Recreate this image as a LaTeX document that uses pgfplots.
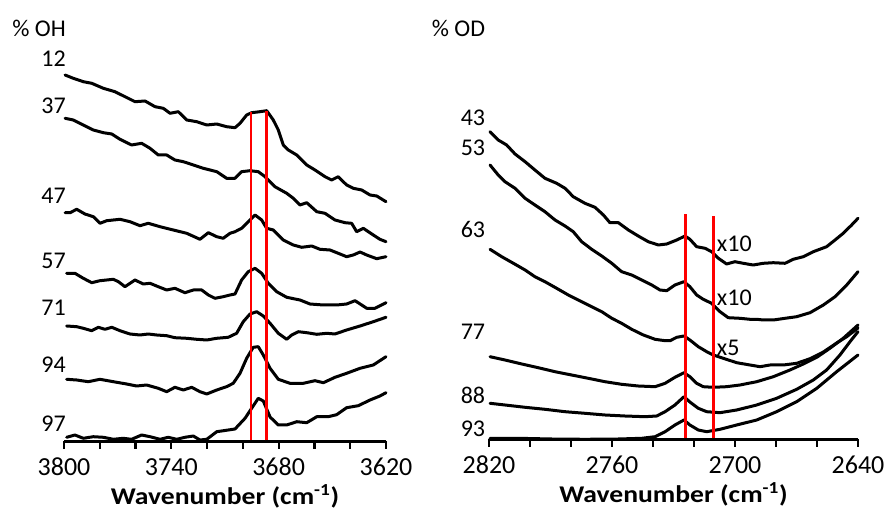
\documentclass[border=0pt]{standalone}
\usepackage{fontspec}
\setmainfont{Carlito}
\usepackage{graphicx}
\usepackage{pgfplots}
\pgfplotsset{compat=1.18}
\pgfplotscreateplotcyclelist{blk}{black,line width=3pt,line join=round,line cap=round,mark=none\\}
\begin{document}
\begin{tikzpicture}
\useasboundingbox (0,0) rectangle (886pt,511pt);
\tikzset{lab/.style={font=\fontsize{24}{28}\selectfont, inner sep=0pt}}
\pgfplotsset{
  spec/.style={
    scale only axis, height=432pt, ymin=-12, ymax=420,
    axis line style={draw=none},
    ytick=\empty, xtick pos=left,
    x dir=reverse,
    major tick length=0pt,
    xticklabel style={font=\fontsize{26}{30}\selectfont, inner sep=0pt, anchor=north, yshift=-4pt},
    clip=false, enlargelimits=false,
    unbounded coords=jump,
    xlabel style={font=\bfseries\fontsize{24}{28}\selectfont, inner sep=0pt, at={(axis description cs:0.5,0)}, anchor=base, yshift=-50.5pt},
    xlabel={\scalebox{1.15}[1]{Wavenumber (cm\textsuperscript{-1})}},
    cycle list name=blk,
  },
  axln/.style={black, line width=3pt, line cap=butt, mark=none, forget plot},
  tck/.style={black, line width=2.3pt, line cap=butt, mark=none, forget plot},
}
% ---------------- left panel: % OH ----------------
\begin{axis}[spec, at={(64pt,57pt)}, anchor=south west, width=322pt,
  xmin=3620, xmax=3800,
  xtick={3620,3680,3740,3800}, xticklabels={3620,3680,3740,3800}]
% axis line and ticks
\addplot[axln] coordinates {(3620,0) (3800,0)};
\addplot[tck] coordinates {(3620,1) (3620,-7) (3630,nan) (3640,1) (3640,-7) (3650,nan) (3660,1) (3660,-7) (3670,nan) (3680,1) (3680,-7) (3690,nan) (3700,1) (3700,-7) (3710,nan) (3720,1) (3720,-7) (3730,nan) (3740,1) (3740,-7) (3750,nan) (3760,1) (3760,-7) (3770,nan) (3780,1) (3780,-7) (3790,nan) (3800,1) (3800,-7)};
\addplot coordinates {(3799.4,367) (3794.8,363.7) (3789.2,360.3) (3784.5,358.7) (3778.0,353.7) (3771.5,350.3) (3765.9,345.3) (3760.3,340.3) (3754.7,341) (3749.1,335.3) (3744.5,333.7) (3740.7,328.7) (3736.1,330.3) (3731.4,322) (3725.8,320.3) (3720.2,317) (3714.6,318) (3709.1,315.3) (3704.4,314.3) (3701.6,318.7) (3697.9,327) (3695.1,329.3) (3690.4,330.3) (3686.7,331.3) (3683.0,322) (3680.2,312) (3677.4,297) (3674.6,292) (3669.9,287) (3664.3,277) (3659.7,272) (3654.1,265.3) (3650.4,262) (3646.7,265.3) (3642.0,257) (3638.3,253.7) (3633.6,252) (3628.9,247) (3625.2,246) (3620,240.3)};
\addplot coordinates {(3799.4,323.7) (3794.8,322) (3789.2,317) (3783.6,312) (3778.0,309.3) (3773.3,308) (3768.7,302.7) (3762.2,297) (3756.6,298.7) (3751.9,293.7) (3747.3,287) (3742.6,287) (3738.0,282) (3733.3,280.3) (3727.7,277) (3722.1,273.7) (3714.6,270.3) (3709.1,263.7) (3704.4,263.7) (3700.7,270.3) (3696.0,271.3) (3691.4,270.3) (3687.6,265.3) (3682.1,255.3) (3675.5,248.7) (3671.8,243.7) (3668.1,237) (3664.3,239.3) (3658.7,230.3) (3654.1,228.7) (3648.5,222) (3642.9,219.3) (3639.2,218.7) (3636.4,210.3) (3632.7,213.7) (3627.1,207) (3623.4,202.7) (3620,200.3)};
\addplot coordinates {(3799.4,229.3) (3796.6,229.3) (3792.9,232.7) (3788.3,228) (3783.6,225.3) (3779.9,218.7) (3776.1,221.3) (3768.7,222.7) (3763.1,220.3) (3757.5,216.3) (3752.9,218.7) (3746.3,215.3) (3738.9,212) (3731.4,208.7) (3724.0,202.7) (3719.3,209.3) (3714.6,205.3) (3711.0,203.7) (3707.2,208.7) (3704.4,210.3) (3700.7,213.7) (3697.0,220.3) (3693.2,227) (3689.5,222) (3686.7,213.7) (3683.0,212) (3680.2,207) (3677.4,202) (3671.8,197) (3667.1,194.7) (3661.5,196) (3656.9,192.7) (3651.3,192) (3646.7,188.7) (3642.0,185.3) (3638.3,187) (3634.5,190) (3630.8,187) (3625.2,183.3) (3620,185.3)};
\addplot coordinates {(3798.5,168.7) (3793.9,168.7) (3789.2,163.7) (3784.5,159.3) (3779.9,161.3) (3772.4,162.7) (3769.6,160.3) (3765.9,155.3) (3760.3,162) (3755.7,158) (3751.9,158.7) (3747.3,155.3) (3742.6,152) (3738.0,153.7) (3732.4,149.3) (3727.7,152) (3723.0,152) (3719.3,147) (3715.6,143.7) (3711.0,145.3) (3707.2,147) (3704.4,148) (3700.7,162) (3697.0,170.3) (3693.2,173.7) (3689.5,168.7) (3685.8,158.7) (3681.1,150.3) (3675.5,144.7) (3668.1,142) (3662.5,138) (3655.0,137) (3647.6,137) (3642.0,138) (3637.3,141.3) (3633.6,137) (3630.8,133.7) (3626.2,133.7) (3620,139.3)};
\addplot coordinates {(3798.5,116) (3792.9,115.3) (3789.2,113.7) (3784.5,111.3) (3780.8,114.7) (3777.1,112.7) (3773.3,114.7) (3768.7,111.3) (3763.1,108) (3757.5,107) (3752.9,108) (3748.2,107) (3742.6,106.3) (3738.0,104.3) (3731.4,103.7) (3725.8,102.7) (3720.2,102) (3714.6,103.7) (3708.2,104.7) (3703.5,108.7) (3699.8,120.3) (3696.0,128) (3692.3,130.3) (3688.6,126) (3684.8,118.7) (3680.2,108.7) (3675.5,102.7) (3672.7,107) (3669.0,110.3) (3664.3,109.3) (3658.7,107.7) (3653.1,108.7) (3648.5,108) (3642.0,112) (3634.5,116) (3627.1,120.3) (3620,124.7)};
\addplot coordinates {(3798.5,62.7) (3792.9,62) (3786.4,60.3) (3779.9,62.7) (3772.4,60.3) (3765.0,58) (3759.4,56) (3753.8,57) (3747.3,53.7) (3742.6,50.3) (3738.0,54.7) (3733.3,52) (3728.6,54.7) (3724.0,50.3) (3720.2,48) (3714.6,52) (3709.1,55.3) (3705.4,58.7) (3701.6,68.7) (3697.9,83.7) (3694.2,94.7) (3691.4,95.3) (3688.6,87) (3684.8,73.7) (3680.2,62.7) (3673.7,58.7) (3666.2,58.7) (3659.7,61.3) (3655.0,59.3) (3648.5,64.7) (3642.0,68.7) (3634.5,73.7) (3627.1,77) (3620,85.3)};
\addplot coordinates {(3798.5,4.7) (3793.9,7) (3789.2,3.7) (3783.6,5.3) (3778.0,4.7) (3772.4,2.7) (3766.9,3.7) (3762.2,2.7) (3756.6,7) (3751.9,5.3) (3746.3,2.7) (3741.7,4.7) (3737.0,2.7) (3732.4,4.7) (3727.7,6) (3724.0,2) (3720.2,2.7) (3714.6,10.3) (3708.2,12) (3704.4,13) (3698.8,23.7) (3695.1,33.7) (3691.4,43.7) (3688.6,41) (3684.8,25) (3680.2,17) (3675.5,17) (3669.9,20.3) (3664.3,19.3) (3658.7,25.3) (3652.3,25.3) (3647.6,27.3) (3642.0,34.3) (3635.5,36.3) (3628.9,42) (3623.4,46) (3620,49.3)};
\addplot[red, line width=2.6pt, line cap=butt] coordinates {(3695.5,1.5) (3695.5,330.3)};
\addplot[red, line width=2.6pt, line cap=butt] coordinates {(3686.7,1.5) (3686.7,331.3)};
\node[lab, anchor=east, xshift=2pt] at (axis cs:3800,413.7) {\% OH};
\node[lab, anchor=east, xshift=2pt] at (axis cs:3800,382.8) {12};
\node[lab, anchor=east, xshift=2pt] at (axis cs:3800,336.2) {37};
\node[lab, anchor=east, xshift=2pt] at (axis cs:3800,246.2) {47};
\node[lab, anchor=east, xshift=2pt] at (axis cs:3800,181.5) {57};
\node[lab, anchor=east, xshift=2pt] at (axis cs:3800,134.5) {71};
\node[lab, anchor=east, xshift=2pt] at (axis cs:3800,77) {94};
\node[lab, anchor=east, xshift=2pt] at (axis cs:3800,18.5) {97};
\end{axis}
% ---------------- right panel: % OD ----------------
\begin{axis}[spec, at={(489pt,59pt)}, anchor=south west, width=369pt,
  xmin=2640, xmax=2820,
  xtick={2640,2700,2760,2820}, xticklabels={2640,2700,2760,2820}]
\addplot[axln] coordinates {(2640,0) (2820,0)};
\addplot[tck] coordinates {(2640,1) (2640,-7) (2650,nan) (2660,1) (2660,-7) (2670,nan) (2680,1) (2680,-7) (2690,nan) (2700,1) (2700,-7) (2710,nan) (2720,1) (2720,-7) (2730,nan) (2740,1) (2740,-7) (2750,nan) (2760,1) (2760,-7) (2770,nan) (2780,1) (2780,-7) (2790,nan) (2800,1) (2800,-7) (2810,nan) (2820,1) (2820,-7)};
\addplot coordinates {(2819.5,308.3) (2815.5,300) (2811.4,295) (2807.3,286) (2802.4,278.3) (2797.6,270) (2792.7,261.7) (2787.0,256.7) (2782.9,251.7) (2778.9,243.3) (2773.2,236.7) (2768.3,232.7) (2764.2,225) (2761.0,217.3) (2756.9,217.3) (2752.0,210) (2747.2,204) (2742.3,198.3) (2737.4,195) (2733.3,196) (2728.4,200) (2724.4,204) (2722.0,200.7) (2718.7,193.3) (2714.6,191.7) (2711.4,188.3) (2708.1,181.7) (2704.1,176) (2700.0,178.3) (2696.0,176.7) (2691.1,175) (2686.2,176.7) (2681.3,177.3) (2675.6,176.7) (2671.6,180.7) (2666.7,183.3) (2661.8,188.3) (2655.3,193.3) (2651.2,200) (2647.2,206.7) (2643.1,215) (2640,221.7)};
\addplot coordinates {(2819.5,275) (2815.5,265) (2812.2,258.3) (2807.3,251.7) (2802.4,241.7) (2797.6,235) (2792.7,228.3) (2787.8,220) (2782.9,214) (2778.9,208.3) (2774.8,198.3) (2769.9,190.7) (2765.0,184) (2760.1,176.7) (2755.3,168.3) (2750.4,165) (2745.5,160) (2740.6,155) (2736.6,150) (2733.3,149.3) (2729.3,155) (2724.9,158.3) (2722.0,153.3) (2718.7,145) (2715.5,140.7) (2711.4,136.7) (2707.3,128.3) (2703.3,122.3) (2697.6,121.7) (2692.7,120.7) (2689.4,120.7) (2686.2,120) (2681.3,120) (2675.6,121.7) (2669.9,123.3) (2663.4,127.3) (2656.9,135) (2651.2,143.3) (2645.5,155) (2640,168.3)};
\addplot coordinates {(2819.5,190.7) (2813.8,183.3) (2808.1,176.7) (2802.4,170) (2797.6,163.3) (2792.7,158.3) (2787.0,151.7) (2781.3,145) (2774.8,138.3) (2769.9,133.3) (2765.0,128.3) (2760.1,121.7) (2755.3,116.7) (2750.4,110.7) (2744.7,105) (2739.0,100.7) (2734.1,99.3) (2731.7,99.3) (2728.4,102.7) (2724.9,104) (2722.0,100) (2717.9,93.3) (2713.8,88.3) (2710.6,85) (2705.7,81.7) (2699.2,77.3) (2692.7,75) (2687.8,73.3) (2682.9,75) (2676.4,75) (2669.9,76.7) (2663.4,81.3) (2656.9,88) (2650.4,97) (2645.5,103.3) (2640,112)};
\addplot coordinates {(2819.5,83.3) (2812.2,80) (2804.0,76) (2796.0,72.3) (2787.8,68.3) (2779.7,65) (2771.6,61.7) (2763.4,58.3) (2755.3,55.7) (2747.2,54) (2739.0,53.3) (2734.1,56.7) (2729.3,62.7) (2724.9,67.3) (2722.0,63.3) (2718.7,56.7) (2715.5,53.3) (2710.6,52.7) (2704.1,53.3) (2697.6,55) (2689.4,58.3) (2681.3,63.3) (2673.2,70) (2666.7,76) (2660.1,82.7) (2653.7,91.7) (2647.2,101.7) (2640,115)};
\addplot coordinates {(2819.5,36.7) (2812.2,35) (2802.4,32.7) (2792.7,30.7) (2782.9,28.3) (2773.2,26.7) (2763.4,25) (2753.7,24) (2743.9,23.3) (2738.2,24) (2734.1,28.3) (2729.3,35) (2724.9,43.3) (2722.0,38) (2717.9,31.7) (2713.8,28.3) (2707.3,27.3) (2699.2,30) (2689.4,35) (2679.7,41.7) (2669.9,50.7) (2661.8,60) (2655.3,70) (2648.8,85) (2643.9,98.3) (2640,108.3)};
\addplot coordinates {(2819.5,1.7) (2805.7,1.7) (2789.4,1) (2773.2,0.7) (2756.9,1) (2745.5,1.7) (2739.0,3.3) (2734.1,8.3) (2729.3,15) (2724.9,20) (2722.0,15) (2717.9,10) (2713.8,8.3) (2707.3,10.7) (2699.2,15) (2689.4,20) (2679.7,28.3) (2669.9,38.3) (2660.1,51.7) (2650.4,68.3) (2640,85)};
\addplot[red, line width=2.6pt, line cap=butt] coordinates {(2724.2,1.5) (2724.2,226)};
\addplot[red, line width=2.6pt, line cap=butt] coordinates {(2710.6,1.5) (2710.6,224)};
\node[lab, anchor=east, xshift=-3.7pt] at (axis cs:2820,411.7) {\% OD};
\node[lab, anchor=east, xshift=-3.7pt] at (axis cs:2820,322.5) {43};
\node[lab, anchor=east, xshift=-3.7pt] at (axis cs:2820,292.5) {53};
\node[lab, anchor=east, xshift=-3.7pt] at (axis cs:2820,210.8) {63};
\node[lab, anchor=east, xshift=-3.7pt] at (axis cs:2820,108.3) {77};
\node[lab, anchor=east, xshift=-3.7pt] at (axis cs:2820,45) {88};
\node[lab, anchor=east, xshift=-3.7pt] at (axis cs:2820,10.8) {93};
\node[lab, anchor=west] at (axis cs:2708.9,196.7) {x10};
\node[lab, anchor=west] at (axis cs:2708.9,142.5) {x10};
\node[lab, anchor=west] at (axis cs:2708.9,92.5) {x5};
\end{axis}
\end{tikzpicture}
\end{document}
